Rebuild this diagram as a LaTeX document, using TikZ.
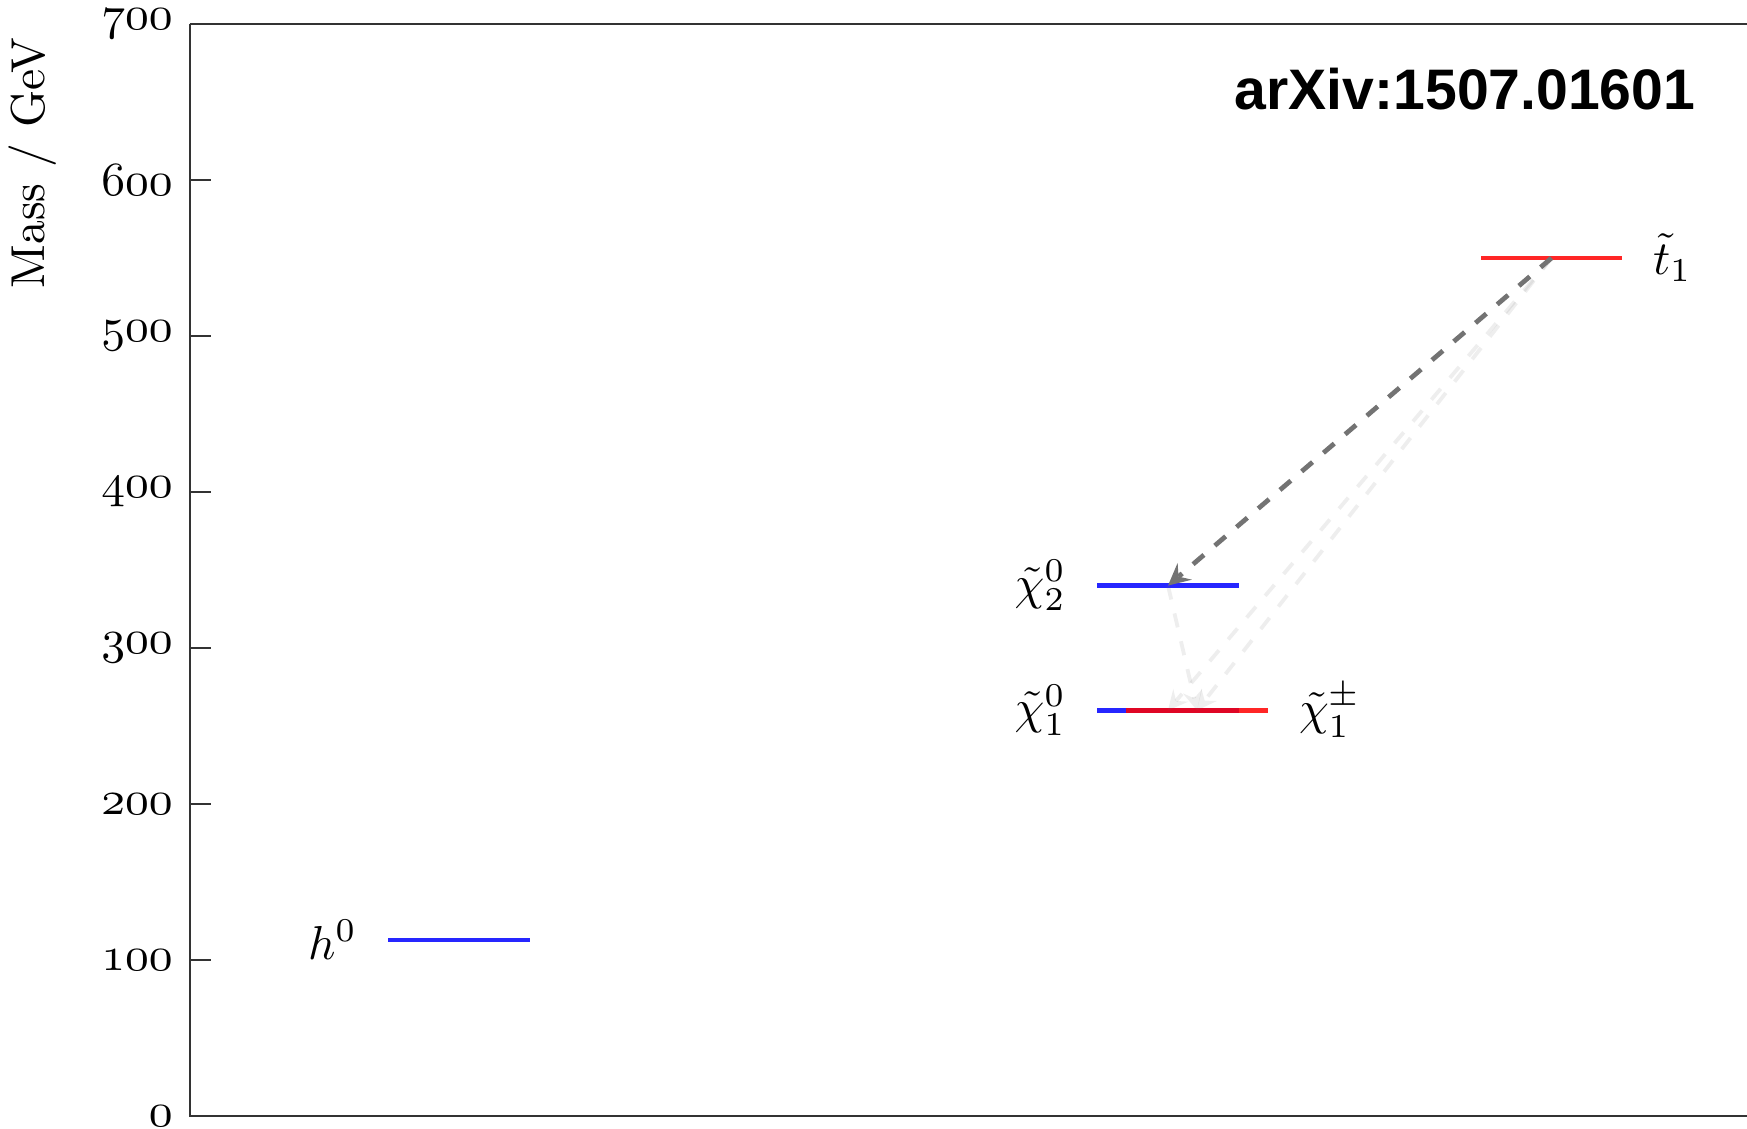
\documentclass[tikz,border=0pt]{standalone}
\usepackage{fontspec}
\newfontfamily\arxivfont{Liberation Sans}
\usetikzlibrary{arrows}

\newcommand{\osnum}[1]{{\usefont{OML}{cmm}{m}{it}#1}}

\begin{document}
\begin{tikzpicture}[x=0.21pt,y=0.3276pt]
	\tikzstyle{axis}=[draw,line width=0.6pt,black!80,text=black]
	\tikzstyle{level}=[draw,line width=0.9pt,opacity=0.85]
	\tikzstyle{decay}=[draw,line width=1pt,dashed,-stealth,black!55]
	\tikzstyle{faint decay}=[decay,line width=0.8pt,opacity=0.12]
	\tikzstyle{particle left}=[left=3pt]
	\tikzstyle{particle right}=[right=3pt]

	\useasboundingbox (-190,-8.33) rectangle (1557,715.4);

	% frame and mass scale
	\draw[axis] (1557,0) -- (0,0) -- (0,700);
	\draw[axis,line width=0.4pt] (0,700) -- (1557,700);
	\foreach \m in {0,100,...,700}
		\draw[axis] (0,\m) node[left] (tick\m) {\osnum{\m}} -- (21,\m);
	\node[rotate=90] (ylabel) at (-157,611) {Mass / GeV};

	\node[font=\arxivfont\bfseries\fontsize{12}{14}\selectfont] (arxiv) at (1275,658) {arXiv:1507.01601};

	% mass levels
	\coordinate (h0) at (269,113);
	\coordinate (chi2) at (978,340);
	\coordinate (chi1) at (978,260);
	\coordinate (chipm) at (1007,260);
	\coordinate (t1) at (1361.5,550);

	\draw[level,blue] (198,113) coordinate (h0l) -- (340,113);
	\draw[level,blue] (907,340) coordinate (chi2l) -- (1049,340);
	\draw[level,blue] (907,260) coordinate (chi1l) -- (1049,260);
	\draw[level,red] (936,260) -- (1078,260) coordinate (chipmr);
	\draw[level,red] (1291,550) -- (1432,550) coordinate (t1r);

	\node[particle left] (h0 label) at (h0l) {$h^0$};
	\node[particle left] (chi2 label) at (chi2l) {$\tilde{\chi}^0_2$};
	\node[particle left] (chi1 label) at (chi1l) {$\tilde{\chi}^0_1$};
	\node[particle right] (chipm label) at (chipmr) {$\tilde{\chi}^\pm_1$};
	\node[particle right] (t1 label) at (t1r) {$\tilde{t}_1$};

	% decays
	\draw[faint decay] (t1) -- (chi1);
	\draw[faint decay] (t1) -- (chipm);
	\draw[faint decay] (chi2) -- (chipm);
	\draw[decay] (t1) -- (chi2);
\end{tikzpicture}
\end{document}
